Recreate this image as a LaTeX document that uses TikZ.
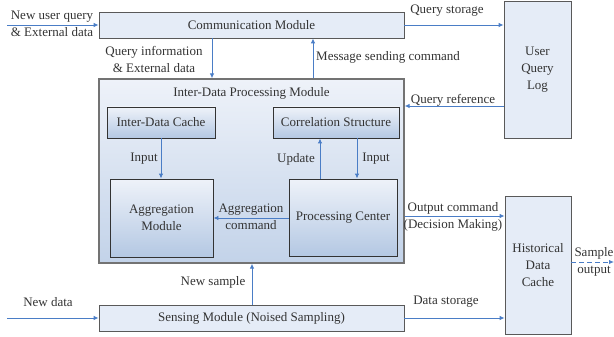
\documentclass[tikz,border=0pt]{standalone}
\usepackage{fontspec}
\setmainfont{Liberation Serif}
\usetikzlibrary{arrows.meta}
\definecolor{boxfill}{HTML}{E5ECF7}
\definecolor{shadelight}{HTML}{EEF2F9}
\definecolor{shadedark}{HTML}{B4C8E3}
\definecolor{arrowblue}{HTML}{4A7DC6}
\definecolor{txt}{HTML}{333333}
\tikzset{
  every node/.style={text=txt, font=\fontsize{13}{17}\selectfont, inner sep=0pt},
  module/.style={draw=black!65, line width=0.8pt, fill=boxfill},
  tallbox/.style={module, align=center},
  subbox/.style={draw=black!80, line width=0.9pt, shading=axis, shading angle=45,
    top color=shadelight, middle color=boxfill, bottom color=shadedark, align=center},
  outerbox/.style={draw=black!55, line width=1.3pt, shading=axis, shading angle=45,
    top color=shadelight, middle color=boxfill!90!shadedark, bottom color=shadedark!70!boxfill},
  arr/.style={draw=arrowblue, line width=0.9pt, -{Latex[length=5pt,width=4.5pt]}},
  lbl/.style={align=center},
}
\begin{document}
\begin{tikzpicture}[x=1pt,y=-1pt]
\useasboundingbox (0,0) rectangle (614,337);

% modules
\node[module, minimum width=305pt, minimum height=26pt] (comm) at (251.5,25) {Communication Module};
\node[outerbox, minimum width=305pt, minimum height=184pt] (idp) at (251.5,171) {};
\node (idptitle) at (251.5,93) {Inter-Data Processing Module};
\node[subbox, minimum width=108pt, minimum height=31pt] (cache) at (161,122.5) {Inter-Data Cache};
\node[subbox, minimum width=126pt, minimum height=31pt] (corr) at (336,122.5) {Correlation Structure};
\node[subbox, minimum width=103pt, minimum height=78pt] (aggr) at (161.5,218) {Aggregation\\Module};
\node[subbox, minimum width=108pt, minimum height=77pt] (proc) at (343,217.5) {Processing Center};
\node[module, minimum width=305pt, minimum height=26pt] (sens) at (251.5,318) {Sensing Module (Noised Sampling)};
\node[tallbox, minimum width=67pt, minimum height=137pt] (uql) at (537.5,69.5) {User\\Query\\Log};
\node[tallbox, minimum width=66pt, minimum height=138pt] (hdc) at (538,265) {Historical\\Data\\Cache};

% free ends and column positions
\coordinate (nuq) at (7,25);
\coordinate (nd) at (7,318);
\coordinate (so) at (614,262);
\coordinate (qx) at (212,0);
\coordinate (mx) at (313,0);
\coordinate (ux) at (320,0);
\coordinate (ix) at (357,0);
\coordinate (sx) at (252,0);
\coordinate (qr) at (0,106);
\coordinate (ac) at (0,218);
\coordinate (oc) at (0,216);

% connectors
\draw[arr] (nuq) -- (comm.west);
\draw[arr] (comm.east) -- (comm.east -| uql.west);
\draw[arr] (comm.south -| qx) -- (idp.north -| qx);
\draw[arr] (idp.north -| mx) -- (comm.south -| mx);
\draw[arr] (uql.west |- qr) -- (idp.east |- qr);
\draw[arr] (cache.south) -- (cache.south |- aggr.north);
\draw[arr] (proc.north -| ux) -- (corr.south -| ux);
\draw[arr] (corr.south -| ix) -- (proc.north -| ix);
\draw[arr] (proc.west |- ac) -- (aggr.east |- ac);
\draw[arr] (idp.east |- oc) -- (hdc.west |- oc);
\draw[arr] (sens.north -| sx) -- (idp.south -| sx);
\draw[arr] (nd) -- (sens.west);
\draw[arr] (sens.east) -- (sens.east -| hdc.west);
\draw[arr, dashed, dash pattern=on 5pt off 3pt] (hdc.east |- so) -- (so);

% labels
\node[lbl] (l1) at (52,24) {New user query\\\& External data};
\node[lbl] (l2) at (154,59) {Query information\\\& External data};
\node[anchor=west] (l3) at (316,57) {Message sending command};
\node (l4) at (447,11) {Query storage};
\node (l5) at (453,100) {Query reference};
\node (l6) at (144,159) {Input};
\node (l7) at (296,159) {Update};
\node (l8) at (376,159) {Input};
\node[lbl] (l9) at (251,217) {Aggregation\\command};
\node[lbl] (l10) at (453,216.5) {Output command\\(Decision Making)};
\node[lbl] (l11) at (594,262) {Sample\\output};
\node (l12) at (213,282) {New sample};
\node (l13) at (48,302) {New data};
\node (l14) at (446,302) {Data storage};
\end{tikzpicture}
\end{document}
